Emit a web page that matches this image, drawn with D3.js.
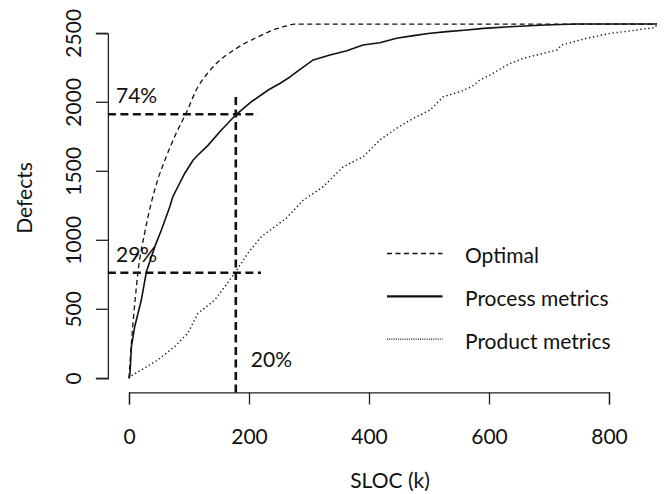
<!DOCTYPE html>
<html>
<head>
<meta charset="utf-8">
<script src="https://cdn.jsdelivr.net/npm/d3@7"></script>
<style>
  body { margin: 0; background: #fff; }
  text { font-family: Lato, "Open Sans", sans-serif; fill: #111; }
</style>
</head>
<body>
<div id="chart"></div>
<script>
// cumulative defects vs SLOC (k)
var optSloc = [0, 4, 10, 15, 26, 37, 48, 60, 76, 95, 115, 130, 143, 160, 176, 192, 210, 230, 248, 265, 275, 880];
var optDefects = [0, 254, 560, 772, 1051, 1270, 1440, 1582, 1751, 1920, 2113, 2205, 2270, 2335, 2382, 2425, 2464, 2505, 2536, 2556, 2567, 2567];

var procSloc = [0, 1, 2, 4, 9.5, 20.5, 29, 43, 54, 68, 73, 93, 107, 115, 132, 154, 179, 204, 232, 252, 265, 280, 307, 335, 363, 390, 418, 446, 474, 502, 530, 563, 591, 635, 693, 746, 880];
var procDefects = [0, 12, 60, 229, 374, 567, 772, 954, 1075, 1243, 1316, 1486, 1582, 1618, 1690, 1799, 1913, 2004, 2089, 2138, 2174, 2222, 2307, 2343, 2374, 2415, 2432, 2464, 2483, 2500, 2512, 2524, 2536, 2548, 2560, 2567, 2567];

var prodSloc = [0, 1, 20.5, 48, 76, 98, 115, 143, 159.5, 178, 198, 220.5, 243, 262, 290.5, 324, 357, 390.5, 418, 446, 474, 502, 524, 552, 571, 585, 602, 630, 657, 680, 713, 721, 763, 802, 835, 857, 877, 880];
var prodDefects = [0, 12, 60, 133, 229, 326, 471, 567, 664, 772, 906, 1026, 1099, 1159, 1292, 1389, 1533, 1606, 1727, 1812, 1884, 1944, 2041, 2077, 2113, 2162, 2198, 2270, 2319, 2343, 2379, 2415, 2464, 2500, 2517, 2531, 2541, 2567];

var xTicks = [0, 200, 400, 600, 800];
var yTicks = [0, 500, 1000, 1500, 2000, 2500];

// cut-off lines: 20% of SLOC, 74% / 29% of defects
var cutSloc = 178;
var cutTop = 2060;
var cutLevels = [1913, 765];
var cutEnds = [215, 220];
var cutLabels = ["74%", "29%"];

var legendNames = ["Optimal", "Process metrics", "Product metrics"];

var svgWidth = 671;
var svgHeight = 494;

var svg = d3.select("#chart")
  .append("svg")
  .attr("width", svgWidth)
  .attr("height", svgHeight);

var xScale = d3.scaleLinear().domain([0, 800]).range([129, 609]);
var yScale = d3.scaleLinear().domain([0, 2500]).range([378.3, 33.3]);

// plot region edges (R style 4% padding)
var xMin = -35.2;
var yMin = -102.5;

var xAxis = d3.axisBottom(xScale).tickValues(xTicks).tickFormat(d3.format("d")).tickSize(12).tickPadding(6);
var yAxis = d3.axisLeft(yScale).tickValues(yTicks).tickFormat(d3.format("d")).tickSize(12).tickPadding(6);

var gx = svg.append("g")
  .attr("transform", "translate(0," + yScale(yMin) + ")")
  .call(xAxis);
gx.selectAll("text").attr("font-size", 21).attr("dy", null).attr("y", 52);

var gy = svg.append("g")
  .attr("transform", "translate(" + xScale(xMin) + ",0)")
  .call(yAxis);
gy.selectAll("text")
  .attr("font-size", 21)
  .attr("text-anchor", "middle")
  .attr("dy", null)
  .attr("x", 0)
  .attr("y", 0)
  .attr("transform", function(d) { return "translate(-27," + yScale(d) + ")rotate(-90)"; });
gy.selectAll(".tick").attr("transform", null);
gy.selectAll(".tick line").attr("transform", function(d) { return "translate(0," + yScale(d) + ")"; });

svg.selectAll(".domain, .tick line").attr("stroke", "#222").attr("stroke-width", 1.3);
svg.selectAll(".tick text").style("font-family", "Lato, sans-serif").attr("fill", "#111");

// axis titles
svg.append("text")
  .attr("x", 390)
  .attr("y", 488)
  .attr("text-anchor", "middle")
  .attr("font-size", 21)
  .text("SLOC (k)");

svg.append("text")
  .attr("transform", "translate(32,198)rotate(-90)")
  .attr("text-anchor", "middle")
  .attr("font-size", 21)
  .text("Defects");

function curve(xs, ys, shape) {
  return d3.line()
    .curve(shape || d3.curveLinear)
    .x(function(d) { return xScale(d); })
    .y(function(d, i) { return yScale(ys[i]); })(xs);
}

svg.append("path")
  .attr("d", curve(optSloc, optDefects, d3.curveMonotoneX))
  .attr("fill", "none")
  .attr("stroke", "#111")
  .attr("stroke-width", 1.3)
  .attr("stroke-dasharray", "5,3.5");

svg.append("path")
  .attr("d", curve(procSloc, procDefects))
  .attr("fill", "none")
  .attr("stroke", "#111")
  .attr("stroke-width", 1.6);

svg.append("path")
  .attr("d", curve(prodSloc, prodDefects))
  .attr("fill", "none")
  .attr("stroke", "#111")
  .attr("stroke-width", 1.4)
  .attr("stroke-dasharray", "1.3,2.7");

// cut-off lines
cutLevels.forEach(function(v, i) {
  svg.append("line")
    .attr("x1", xScale(xMin))
    .attr("x2", xScale(cutEnds[i]))
    .attr("y1", yScale(v))
    .attr("y2", yScale(v))
    .attr("stroke", "#111")
    .attr("stroke-width", 2.6)
    .attr("stroke-dasharray", "8,4.5");
  svg.append("text")
    .attr("x", 116)
    .attr("y", yScale(v) - 11)
    .attr("font-size", 21)
    .text(cutLabels[i]);
});

svg.append("line")
  .attr("x1", xScale(cutSloc))
  .attr("x2", xScale(cutSloc))
  .attr("y1", yScale(yMin))
  .attr("y2", yScale(cutTop))
  .attr("stroke", "#111")
  .attr("stroke-width", 2.6)
  .attr("stroke-dasharray", "8,4.5");

svg.append("text")
  .attr("x", xScale(cutSloc) + 15)
  .attr("y", 366.5)
  .attr("font-size", 21)
  .text("20%");

// legend
var legendStyles = [
  { w: 1.3, dash: "5,3.5" },
  { w: 2.2, dash: null },
  { w: 1.4, dash: "1,1.2" }
];
var legend = svg.append("g").attr("transform", "translate(387,253.5)");
legendNames.forEach(function(name, i) {
  var row = legend.append("g").attr("transform", "translate(0," + (i * 42.8) + ")");
  row.append("line")
    .attr("x1", 0).attr("x2", 55.5)
    .attr("stroke", "#111")
    .attr("stroke-width", legendStyles[i].w)
    .attr("stroke-dasharray", legendStyles[i].dash);
  row.append("text")
    .attr("x", 78)
    .attr("y", 9.5)
    .attr("font-size", 21)
    .text(name);
});
</script>
</body>
</html>
